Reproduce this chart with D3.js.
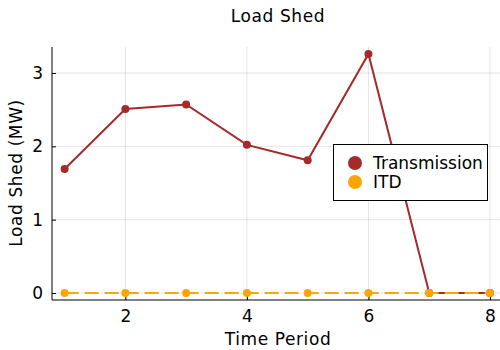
<!DOCTYPE html>
<meta charset="utf-8">
<style>
    body { margin: 0; background: #fff; }
    svg text { font-family: "DejaVu Sans", sans-serif; fill: #000; }
</style>
<svg></svg>
<script src="https://d3js.org/d3.v7.min.js"></script>
<script>

    var periods = [1, 2, 3, 4, 5, 6, 7, 8];
    var transmission = [1.69, 2.51, 2.57, 2.02, 1.81, 3.26, 0, 0];
    var itd = [0, 0, 0, 0, 0, 0, 0, 0];
    var xTicks = [2, 4, 6, 8];
    var yTicks = [0, 1, 2, 3];

    var width = 500,
        height = 350;

    var svg = d3.select("svg")
        .attr("width", width)
        .attr("height", height);

    var pLeft = 52, pRight = 500, pTop = 47, pBottom = 300;

    var x = d3.scaleLinear().domain([1, 8]).range([64.6, 490]);
    var y = d3.scaleLinear().domain([0, 3]).range([293, 73]);

    // grid
    svg.append("g").selectAll("line").data(xTicks).enter().append("line")
        .attr("x1", x).attr("x2", x).attr("y1", pTop).attr("y2", pBottom)
        .attr("stroke", "#000").attr("stroke-opacity", 0.1).attr("stroke-width", 1);
    svg.append("g").selectAll("line").data(yTicks).enter().append("line")
        .attr("y1", y).attr("y2", y).attr("x1", pLeft).attr("x2", pRight)
        .attr("stroke", "#000").attr("stroke-opacity", 0.1).attr("stroke-width", 1);

    // axes
    var xAxis = svg.append("g").attr("transform", "translate(0," + pBottom + ")")
        .call(d3.axisBottom(x).tickValues(xTicks).tickSize(-4).tickPadding(10).tickFormat(d3.format("d")));
    var yAxis = svg.append("g").attr("transform", "translate(" + pLeft + ",0)")
        .call(d3.axisLeft(y).tickValues(yTicks).tickSize(-4).tickPadding(9).tickFormat(d3.format("d")));
    [xAxis, yAxis].forEach(function (a) {
        a.select(".domain").remove();
        a.selectAll("text").style("font-size", "17px").style("font-family", "DejaVu Sans");
        a.selectAll(".tick line").attr("stroke", "#000");
    });
    svg.append("line").attr("x1", pLeft).attr("x2", pRight).attr("y1", pBottom).attr("y2", pBottom)
        .attr("stroke", "#000").attr("stroke-width", 1);
    svg.append("line").attr("x1", pLeft).attr("x2", pLeft).attr("y1", pTop).attr("y2", pBottom)
        .attr("stroke", "#000").attr("stroke-width", 1);

    var line = d3.line()
        .x(function (d, i) { return x(periods[i]); })
        .y(function (d) { return y(d); });

    svg.append("path").datum(transmission)
        .attr("d", line).attr("fill", "none")
        .attr("stroke", "#a52a2a").attr("stroke-width", 2);
    svg.append("g").selectAll("circle").data(transmission).enter().append("circle")
        .attr("cx", function (d, i) { return x(periods[i]); })
        .attr("cy", y).attr("r", 4).attr("fill", "#a52a2a");

    svg.append("path").datum(itd)
        .attr("d", line).attr("fill", "none")
        .attr("stroke", "#ffa500").attr("stroke-width", 2)
        .attr("stroke-dasharray", "14,6");
    svg.append("g").selectAll("circle").data(itd).enter().append("circle")
        .attr("cx", function (d, i) { return x(periods[i]); })
        .attr("cy", y).attr("r", 4).attr("fill", "#ffa500");

    // titles
    svg.append("text").attr("x", 278).attr("y", 22).attr("text-anchor", "middle")
        .style("font-size", "17px").style("letter-spacing", "0.6px").text("Load Shed");
    svg.append("text").attr("x", 278).attr("y", 345).attr("text-anchor", "middle")
        .style("font-size", "17px").style("letter-spacing", "0.6px").text("Time Period");
    svg.append("text").attr("transform", "translate(22,173) rotate(-90)").attr("text-anchor", "middle")
        .style("font-size", "17px").style("letter-spacing", "0.6px").text("Load Shed (MW)");

    // legend
    var legend = svg.append("g");
    legend.append("rect").attr("x", 333.5).attr("y", 144.5).attr("width", 154).attr("height", 56)
        .attr("fill", "#fff").attr("stroke", "#000").attr("stroke-width", 1);
    var series = [{ name: "Transmission", color: "#a52a2a" }, { name: "ITD", color: "#ffa500" }];
    legend.selectAll("circle").data(series).enter().append("circle")
        .attr("cx", 355).attr("cy", function (d, i) { return 163 + i * 19; })
        .attr("r", 7).attr("fill", function (d) { return d.color; });
    legend.selectAll("text").data(series).enter().append("text")
        .attr("x", 373).attr("y", function (d, i) { return 169 + i * 19; })
        .style("font-size", "17px").text(function (d) { return d.name; });

</script>
